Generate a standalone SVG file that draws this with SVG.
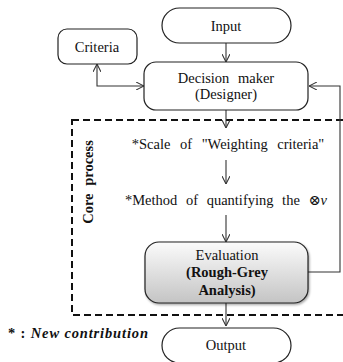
<svg xmlns="http://www.w3.org/2000/svg" width="343" height="362" viewBox="0 0 343 362" font-family="'Liberation Serif','Times New Roman','DejaVu Serif',serif">
<defs>
<style>
.box{fill:#fff;stroke:#222;stroke-width:1.2}
.t{font-family:'Liberation Serif','Times New Roman','DejaVu Serif',serif;font-size:14.5px;fill:#111;text-anchor:middle}
.b{font-weight:bold}
.c{fill:none;stroke:#333;stroke-width:1.1}
</style>
<marker id="ah" viewBox="0 0 10 10" refX="10" refY="5" markerWidth="8" markerHeight="8" markerUnits="userSpaceOnUse" orient="auto-start-reverse">
<path d="M0,0 L10,5 L0,10" fill="none" stroke="#333" stroke-width="1.3"/>
</marker>
<linearGradient id="g" x1="0" y1="0" x2="0" y2="1">
<stop offset="0" stop-color="#fbfbfb"/>
<stop offset="1" stop-color="#c4c4c4"/>
</linearGradient>
<filter id="sh" x="-10%" y="-10%" width="130%" height="130%">
<feDropShadow dx="1" dy="1.5" stdDeviation="1" flood-color="#000" flood-opacity="0.35"/>
</filter>
</defs>
<rect width="343" height="362" fill="#fff"/>
<g id="core-process">
<rect x="72" y="120" width="275" height="195" fill="none" stroke="#111" stroke-width="2" stroke-dasharray="7,4"/>
<text class="t b" transform="translate(93,182) rotate(-90)" word-spacing="4">Core process</text>
</g>
<g id="connectors">
<line class="c" x1="226" y1="43" x2="226" y2="62" marker-end="url(#ah)"/>
<line class="c" x1="226" y1="110" x2="226" y2="128" marker-end="url(#ah)"/>
<line class="c" x1="226" y1="160" x2="226" y2="184" marker-end="url(#ah)"/>
<line class="c" x1="226" y1="215" x2="226" y2="242" marker-end="url(#ah)"/>
<line class="c" x1="226" y1="303" x2="226" y2="326" marker-end="url(#ah)"/>
<polyline class="c" points="97,64 97,86 144,86" marker-start="url(#ah)" marker-end="url(#ah)"/>
<polyline class="c" points="308,272 340,272 340,86 309,86" marker-end="url(#ah)"/>
</g>
<g id="input">
<rect class="box" x="162" y="8" width="129" height="35" rx="17.5"/>
<text class="t" x="226" y="31">Input</text>
</g>
<g id="criteria">
<rect class="box" x="58" y="29" width="79" height="35" rx="9"/>
<text class="t" x="97" y="52">Criteria</text>
</g>
<g id="decision-maker">
<rect class="box" x="144" y="62" width="164" height="48" rx="12"/>
<text class="t" x="226" y="83" word-spacing="5">Decision maker</text>
<text class="t" x="226" y="99">(Designer)</text>
</g>
<g id="scale">
<text class="t" x="228" y="149" word-spacing="6">*Scale of "Weighting criteria"</text>
</g>
<g id="method">
<text class="t" x="226" y="205" word-spacing="5">*Method of quantifying the ⊗<tspan font-style="italic">v</tspan></text>
</g>
<g id="evaluation">
<rect x="145" y="242" width="163" height="61" rx="14" fill="url(#g)" stroke="#222" stroke-width="1.2" filter="url(#sh)"/>
<text class="t" x="227" y="260">Evaluation</text>
<text class="t b" x="227" y="277">(Rough-Grey</text>
<text class="t b" x="227" y="295">Analysis)</text>
</g>
<g id="output">
<rect class="box" x="162" y="328" width="129" height="35" rx="17.5"/>
<text class="t" x="226" y="350">Output</text>
</g>
<g id="legend">
<text class="t b" x="8" y="338" style="text-anchor:start" textLength="140" lengthAdjust="spacing">* : <tspan font-style="italic">New contribution</tspan></text>
</g>
</svg>
